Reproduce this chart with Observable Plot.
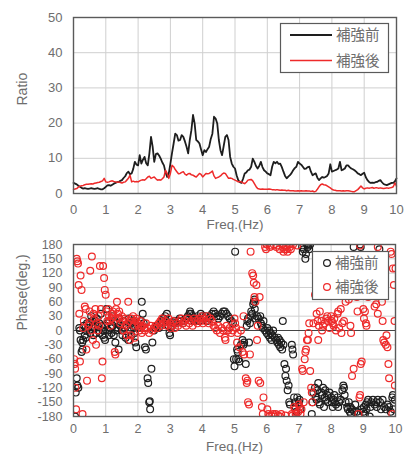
<!DOCTYPE html>
<html><head><meta charset="utf-8">
<script src="https://cdn.jsdelivr.net/npm/d3@7"></script>
<script src="https://cdn.jsdelivr.net/npm/@observablehq/plot@0.6"></script>
<style>
body{margin:0;background:#fff;}
#c{width:414px;height:459px;position:relative;overflow:hidden;background:#fff;}
svg{display:block}
</style></head><body><div id="c"></div>
<script>
// ---------- DATA ----------
const seriesNames = ["補強前", "補強後"];
const freqTicks = [0,1,2,3,4,5,6,7,8,9,10];
const ratioTicks = [0,10,20,30,40,50];
const phaseTicks = [-180,-150,-120,-90,-60,-30,0,30,60,90,120,150,180];

// Ratio spectra sampled every 0.05 Hz (0..10 Hz)
const ratioStep = 0.05;
const ratioBefore = [
 3.0,2.8,2.6,2.2,1.9,1.6,1.4,1.5,1.4,1.3,1.4,1.5,1.4,1.3,1.4,1.5,1.3,1.2,1.2,1.5,
 1.9,2.3,2.4,2.2,2.5,2.8,3.0,3.2,3.3,3.6,3.8,4.4,4.9,5.8,6.2,5.5,5.7,7.0,9.0,8.2,
 8.0,10.9,8.5,9.6,10.4,8.6,8.0,11.4,16.1,13.3,9.0,11.2,11.4,10.8,9.9,8.8,8.0,6.0,4.7,5.7,
 8.5,11.5,14.2,17.0,16.6,15.0,15.2,16.6,16.1,14.8,13.3,11.4,15.2,18.0,22.3,19.9,15.2,14.8,14.2,12.5,
 10.9,12.3,11.8,12.6,13.3,15.5,17.0,21.8,21.3,19.9,15.2,12.3,10.9,13.5,16.1,16.6,15.2,10.4,8.5,7.6,
 7.1,5.2,3.8,3.2,3.0,4.2,5.7,6.0,6.6,6.8,7.6,9.9,9.0,7.8,7.1,7.8,9.0,7.5,6.6,6.2,
 5.7,5.5,5.2,7.6,9.0,8.6,9.0,8.4,8.5,7.5,6.2,5.0,4.3,4.8,5.2,5.8,6.6,7.2,7.6,9.0,
 8.5,8.2,7.6,7.0,7.1,7.5,7.6,6.2,5.2,5.5,5.7,4.5,3.8,4.3,4.7,4.5,4.7,5.0,5.7,8.3,
 6.2,6.4,6.6,6.8,7.1,9.0,6.6,6.8,7.1,8.0,8.0,7.5,7.1,6.9,6.6,6.2,5.7,5.5,5.2,5.6,
 5.9,4.6,3.8,3.3,3.0,3.1,3.0,3.2,3.3,3.6,3.8,3.2,2.7,2.5,2.4,2.6,2.8,3.0,3.0,3.4,
 4.3
];
const ratioAfter = [
 1.1,1.3,1.4,1.8,2.1,2.2,2.3,2.5,2.6,2.6,2.7,2.8,2.7,2.9,3.0,3.1,3.2,3.4,3.6,4.3,
 3.3,3.2,3.3,3.5,3.6,3.4,3.3,3.2,3.3,3.1,3.0,3.2,3.3,3.8,4.3,5.2,3.3,3.5,3.3,3.4,
 3.3,3.6,3.8,3.9,3.8,4.2,4.7,4.9,4.3,4.5,4.7,4.2,3.8,3.9,3.8,4.2,4.7,6.6,5.7,4.3,
 5.7,8.0,7.6,6.8,6.2,5.6,5.7,6.0,6.2,5.5,5.2,5.6,5.7,5.3,5.2,4.9,4.7,5.2,5.7,5.4,
 4.7,5.2,5.7,5.6,5.7,6.0,6.4,5.0,4.3,4.5,4.7,5.0,5.5,5.8,5.7,5.0,4.3,4.4,4.3,4.0,
 3.8,3.6,3.3,3.4,3.3,3.0,2.8,3.2,3.8,3.9,4.0,3.6,2.8,2.0,1.4,1.3,1.2,1.3,1.2,1.2,
 1.2,1.3,1.2,1.1,1.1,1.0,1.1,1.0,0.9,1.0,0.9,0.9,0.8,0.9,0.8,0.8,0.8,0.7,0.7,0.8,
 0.7,0.8,0.7,0.7,0.8,0.7,0.7,0.6,0.7,0.5,0.6,1.2,1.9,2.5,2.7,2.5,2.4,2.2,1.9,1.6,
 1.2,1.0,0.9,0.8,0.8,0.8,0.7,0.8,0.7,0.8,0.8,0.7,0.6,0.5,0.5,0.8,1.1,1.6,2.1,1.6,
 1.3,1.5,1.6,1.5,1.6,1.7,1.5,1.6,1.6,1.5,1.6,1.5,1.4,1.5,1.6,1.5,1.6,1.7,1.9,3.0,
 2.1
];

// Phase scatter
const phaseFreqBefore = [
 0.05,0.07,0.10,0.12,0.15,0.18,0.20,0.22,0.25,0.27,
 0.28,0.30,0.32,0.35,0.38,0.40,0.42,0.45,0.48,0.50,
 0.52,0.55,0.58,0.60,0.62,0.65,0.68,0.70,0.72,0.75,
 0.78,0.80,0.82,0.85,0.88,0.90,0.92,0.95,0.98,1.00,
 1.02,1.05,1.08,1.10,1.12,1.15,1.18,1.20,1.22,1.25,
 1.28,1.30,1.32,1.35,1.38,1.40,1.42,1.45,1.50,1.52,
 1.55,1.60,1.62,1.65,1.70,1.72,1.75,1.78,1.80,1.85,
 1.88,1.90,1.92,1.95,1.98,2.00,2.05,2.10,2.12,2.15,
 2.18,2.20,2.22,2.25,2.30,2.32,2.35,2.37,2.38,2.42,
 2.45,2.50,2.55,2.60,2.65,2.70,2.75,2.80,2.85,2.88,
 2.90,2.95,2.98,3.00,3.02,3.05,3.10,3.15,3.20,3.25,
 3.30,3.35,3.40,3.45,3.50,3.55,3.60,3.62,3.65,3.68,
 3.70,3.75,3.80,3.85,3.90,3.95,4.00,4.05,4.10,4.15,
 4.20,4.25,4.30,4.35,4.40,4.45,4.50,4.55,4.60,4.65,
 4.70,4.75,4.80,4.85,4.90,4.95,4.98,5.00,5.02,5.05,
 5.08,5.10,5.12,5.15,5.20,5.25,5.28,5.30,5.35,5.38,
 5.40,5.42,5.45,5.48,5.50,5.52,5.55,5.58,5.60,5.62,
 5.63,5.65,5.70,5.75,5.80,5.82,5.85,5.88,5.90,5.95,
 6.00,6.02,6.05,6.08,6.10,6.12,6.15,6.18,6.20,6.25,
 6.30,6.33,6.35,6.38,6.40,6.42,6.45,6.48,6.50,6.52,
 6.55,6.58,6.60,6.62,6.65,6.68,6.70,6.72,6.78,6.80,
 6.82,6.85,6.88,6.90,6.92,6.95,7.00,7.02,7.05,7.10,
 7.12,7.15,7.20,7.22,7.25,7.28,7.30,7.32,7.35,7.40,
 7.42,7.45,7.50,7.52,7.55,7.58,7.60,7.62,7.65,7.70,
 7.72,7.75,7.78,7.80,7.82,7.85,7.88,7.90,7.95,8.00,
 8.02,8.05,8.08,8.10,8.12,8.15,8.20,8.22,8.25,8.30,
 8.35,8.38,8.40,8.42,8.45,8.50,8.52,8.55,8.58,8.60,
 8.62,8.65,8.70,8.72,8.75,8.80,8.85,8.90,8.92,8.95,
 9.00,9.02,9.05,9.08,9.10,9.12,9.15,9.20,9.22,9.25,
 9.30,9.35,9.40,9.42,9.45,9.50,9.52,9.55,9.60,9.65,
 9.70,9.75,9.80,9.85,9.90,9.92,9.95,9.98
];
const phaseBefore = [
 -180,-130,-100,-115,-120,5,0,-20,-45,-25,
 -40,-20,10,-10,-15,0,15,5,10,15,
 -5,30,20,10,-10,5,20,-5,25,10,
 0,15,-5,35,10,-10,0,-15,-20,10,
 45,15,0,-10,20,5,-5,30,10,-10,
 20,-25,0,15,5,-40,25,10,0,-10,
 20,5,-15,10,-20,25,0,15,-10,20,
 5,-5,-25,-35,10,15,5,20,60,35,
 15,5,-35,-40,-100,-110,-150,-148,-165,-80,
 -25,0,5,10,5,15,20,25,30,20,
 35,10,-5,-10,5,10,15,20,15,20,
 25,20,15,20,25,30,35,40,35,30,
 25,20,25,30,20,35,30,25,30,20,
 25,30,35,40,35,30,25,30,35,40,
 40,35,30,25,20,15,-60,-75,165,-60,
 -40,-45,-60,-65,-30,-20,-30,-25,-70,10,
 20,25,-25,15,30,40,35,55,60,65,
 45,25,30,25,30,15,10,5,20,0,
 -5,5,-10,0,-15,-5,-20,-10,0,-15,
 -20,-25,-15,-30,-20,-35,-25,-40,20,-30,
 -70,-95,-80,-105,-125,-115,-150,-155,-30,-40,
 -50,-140,-150,-160,-170,-140,-150,-145,-165,175,
 165,170,150,160,180,175,178,170,180,-175,
 -150,-130,-120,-140,-145,-125,-110,-150,-155,-130,
 -135,-120,-160,-140,-125,-145,-135,-150,-130,-140,
 -150,-160,-145,-135,-150,-155,-140,-160,-150,-145,
 -125,-115,-120,-135,-150,-160,-165,-150,-170,-160,
 -175,-165,175,-170,-155,-170,-175,180,175,-165,
 -170,-160,-175,-155,-165,-150,-145,-180,-160,-150,
 -145,-155,-150,-160,-145,170,-150,-165,-145,-160,
 -165,-155,-160,-170,-140,-135,-165,-145
];
const phaseFreqAfter = [
 0.02,0.04,0.05,0.06,0.08,0.10,0.12,0.14,0.16,0.18,
 0.20,0.22,0.25,0.28,0.30,0.32,0.35,0.38,0.40,0.42,
 0.45,0.48,0.50,0.52,0.55,0.57,0.60,0.62,0.65,0.68,
 0.70,0.72,0.75,0.78,0.80,0.82,0.85,0.88,0.90,0.92,
 0.95,0.97,1.00,1.02,1.05,1.08,1.10,1.12,1.15,1.18,
 1.20,1.22,1.25,1.28,1.30,1.32,1.35,1.38,1.40,1.42,
 1.45,1.50,1.52,1.55,1.60,1.62,1.65,1.68,1.70,1.72,
 1.75,1.78,1.80,1.85,1.88,1.90,1.92,1.95,2.00,2.02,
 2.05,2.08,2.10,2.12,2.15,2.20,2.22,2.25,2.30,2.35,
 2.40,2.45,2.50,2.55,2.60,2.65,2.70,2.72,2.75,2.80,
 2.85,2.90,2.95,3.00,3.02,3.05,3.10,3.15,3.20,3.25,
 3.30,3.35,3.40,3.45,3.50,3.55,3.60,3.65,3.70,3.75,
 3.80,3.85,3.90,3.95,4.00,4.02,4.05,4.10,4.15,4.20,
 4.25,4.30,4.35,4.40,4.45,4.50,4.55,4.60,4.65,4.70,
 4.72,4.75,4.80,4.85,4.90,4.95,5.00,5.02,5.05,5.08,
 5.10,5.15,5.20,5.25,5.28,5.30,5.35,5.38,5.40,5.42,
 5.45,5.48,5.50,5.55,5.58,5.60,5.62,5.65,5.68,5.70,
 5.72,5.75,5.78,5.80,5.85,5.88,5.90,5.95,5.98,6.00,
 6.02,6.05,6.08,6.10,6.12,6.15,6.20,6.22,6.25,6.28,
 6.30,6.32,6.35,6.40,6.42,6.45,6.48,6.50,6.52,6.55,
 6.58,6.60,6.62,6.65,6.70,6.72,6.75,6.78,6.80,6.82,
 6.85,6.88,6.90,6.92,6.95,6.98,7.00,7.02,7.05,7.08,
 7.10,7.12,7.15,7.18,7.20,7.22,7.25,7.28,7.30,7.32,
 7.35,7.38,7.40,7.42,7.45,7.50,7.55,7.58,7.60,7.62,
 7.65,7.70,7.72,7.75,7.80,7.85,7.88,7.90,7.95,8.00,
 8.02,8.05,8.08,8.10,8.15,8.20,8.22,8.25,8.30,8.32,
 8.35,8.40,8.45,8.50,8.55,8.60,8.62,8.65,8.70,8.75,
 8.78,8.80,8.82,8.85,8.88,8.90,8.92,8.95,9.00,9.02,
 9.05,9.08,9.10,9.15,9.20,9.22,9.25,9.30,9.35,9.40,
 9.45,9.50,9.52,9.55,9.58,9.60,9.62,9.65,9.70,9.72,
 9.75,9.78,9.80,9.85,9.88,9.90,9.92,9.95,9.97,9.98,
 10.00,8.90,9.45
];
const phaseAfter = [
 -60,-70,-80,-120,-165,150,145,140,95,35,
 -65,115,85,-175,5,20,50,45,-40,-105,
 10,15,40,125,0,155,-20,35,25,45,
 -30,15,0,30,10,135,45,-100,-65,135,
 110,85,75,40,20,45,30,20,10,25,
 35,40,30,-45,-50,45,60,35,25,40,
 15,30,20,0,25,10,-10,15,60,20,
 -20,-10,25,30,10,-15,20,25,15,10,
 0,20,5,-5,10,5,0,15,5,-5,
 10,0,5,10,5,15,20,10,25,15,
 20,10,25,15,5,10,20,5,15,10,
 20,25,15,20,10,25,15,20,10,25,
 20,15,25,20,30,15,25,20,30,15,
 25,20,10,5,0,10,-5,5,0,-15,
 -20,10,0,5,-5,0,25,15,5,-25,
 -5,-35,0,-45,30,-50,-100,-110,-105,-150,
 -155,-50,165,120,115,100,70,60,95,-20,
 10,-105,70,-110,-160,-175,-140,175,170,180,
 -165,-175,-180,175,178,-178,-175,180,-180,-175,
 175,178,-178,170,-180,-175,180,175,165,170,
 -178,175,170,165,180,175,170,-175,-178,180,
 -160,-165,-175,-180,178,-170,-155,-160,-175,-165,
 -80,-85,-150,-60,-45,-40,-20,-20,-5,15,
 -85,-120,-130,-150,15,75,35,20,-20,10,
 40,20,0,10,15,25,30,20,5,30,
 20,15,10,25,0,35,40,5,45,-5,
 15,20,60,100,65,10,-5,-95,-80,110,
 85,70,40,-175,-140,-135,-70,-65,45,25,
 40,15,10,70,90,110,130,150,50,55,
 35,145,100,75,60,20,-20,-25,-30,-10,
 -35,-70,-100,165,160,-175,130,95,20,-115,
 130,178,175
];

// ---------- BUILD ----------
const FONT = '"Noto Sans CJK JP", "Noto Sans", sans-serif';
const TICKFONT = '"Liberation Sans", Arial, sans-serif';
const BLACK = "#1e1e1e", RED = "#ee2a2a";
const TXT = "#6e6e6e";
const freqOf = i => +(i * ratioStep).toFixed(2);
const ratioRowsBefore = ratioBefore.map((v, i) => ({f: freqOf(i), v}));
const ratioRowsAfter = ratioAfter.map((v, i) => ({f: freqOf(i), v}));
const phaseRowsBefore = phaseBefore.map((d, i) => ({f: phaseFreqBefore[i], d}));
const phaseRowsAfter = phaseAfter.map((d, i) => ({f: phaseFreqAfter[i], d}));

const common = {
  width: 414, marginLeft: 73, marginRight: 18,
  style: {fontFamily: TICKFONT, fontSize: "13px", color: TXT, background: "#fff", overflow: "visible"}
};

const topChart = Plot.plot({
  ...common,
  height: 236, marginTop: 17, marginBottom: 43,
  x: {domain: [0, 10], ticks: freqTicks, tickSize: 0, tickPadding: 11, label: null},
  y: {domain: [0, 50], ticks: ratioTicks, tickSize: 0, tickPadding: 11, label: null},
  marks: [
    Plot.ruleX(freqTicks, {stroke: "#cfcfcf", strokeWidth: 1}),
    Plot.ruleY(ratioTicks, {stroke: "#cfcfcf", strokeWidth: 1}),
    Plot.line(ratioRowsBefore, {x: "f", y: "v", stroke: BLACK, strokeWidth: 1.8}),
    Plot.line(ratioRowsAfter, {x: "f", y: "v", stroke: RED, strokeWidth: 1.5}),
    Plot.frame({stroke: "#5a5a5a", strokeWidth: 1.4}),
    Plot.text(["Ratio"], {frameAnchor: "left", text: d => d, rotate: -90, dx: -51, fill: TXT, fontSize: 14, fontFamily: TICKFONT}),
    Plot.text(["Freq.(Hz)"], {frameAnchor: "bottom", text: d => d, dy: 35, fill: TXT, fontSize: 13.5, fontFamily: TICKFONT})
  ]
});

const bottomChart = Plot.plot({
  ...common,
  height: 223, marginTop: 8, marginBottom: 43, marginRight: 19,
  style: {...common.style, fontSize: "12.5px"},
  x: {domain: [0, 10], ticks: freqTicks, tickSize: 0, tickPadding: 8, label: null},
  y: {domain: [-180, 180], ticks: phaseTicks, tickSize: 0, tickPadding: 11, label: null, tickFormat: d => String(d)},
  marks: [
    Plot.ruleX(freqTicks, {stroke: "#cfcfcf", strokeWidth: 1}),
    Plot.ruleY(phaseTicks, {stroke: "#cfcfcf", strokeWidth: 1}),
    Plot.ruleY([0], {stroke: "#444", strokeWidth: 1.2}),
    Plot.dot(phaseRowsBefore, {x: "f", y: "d", r: 3.4, stroke: BLACK, strokeWidth: 1.2, fill: "none", clip: true}),
    Plot.dot(phaseRowsAfter, {x: "f", y: "d", r: 3.4, stroke: RED, strokeWidth: 1.2, fill: "none", clip: true}),
    Plot.frame({stroke: "#5a5a5a", strokeWidth: 1.4}),
    Plot.text(["Phase(deg.)"], {frameAnchor: "left", text: d => d, rotate: -90, dx: -51, fill: TXT, fontSize: 14, fontFamily: TICKFONT}),
    Plot.text(["Freq.(Hz)"], {frameAnchor: "bottom", text: d => d, dy: 34, fill: TXT, fontSize: 13.5, fontFamily: TICKFONT})
  ]
});

// Legends (decoration, not data)
function legendText(g, x, y, s) {
  g.append("text").attr("x", x).attr("y", y).attr("dy", "0.36em")
    .attr("text-anchor", "start").attr("fill", TXT).attr("font-size", 14.5)
    .attr("font-family", FONT).text(s);
}
function legendLines(svg) {
  const g = d3.select(svg).append("g");
  g.append("rect").attr("x", 280.5).attr("y", 23.5).attr("width", 108).attr("height", 49)
    .attr("fill", "#fff").attr("stroke", "#5a5a5a").attr("stroke-width", 1.2);
  [[BLACK, 35, 1.8], [RED, 60.5, 1.5]].forEach(([c, y, w], i) => {
    g.append("line").attr("x1", 290).attr("x2", 332).attr("y1", y).attr("y2", y)
      .attr("stroke", c).attr("stroke-width", w);
    legendText(g, 336, y, seriesNames[i]);
  });
}
function legendDots(svg) {
  const g = d3.select(svg).append("g");
  g.append("rect").attr("x", 312.5).attr("y", 15.5).attr("width", 76).attr("height", 48)
    .attr("fill", "#fff").attr("stroke", "#5a5a5a").attr("stroke-width", 1.2);
  [[BLACK, 27], [RED, 51]].forEach(([c, y], i) => {
    g.append("circle").attr("cx", 327).attr("cy", y).attr("r", 3.4)
      .attr("fill", "none").attr("stroke", c).attr("stroke-width", 1.2);
    legendText(g, 335, y, seriesNames[i]);
  });
}
legendLines(topChart);
legendDots(bottomChart);

const c = document.getElementById("c");
c.appendChild(topChart);
c.appendChild(bottomChart);
</script></body></html>
